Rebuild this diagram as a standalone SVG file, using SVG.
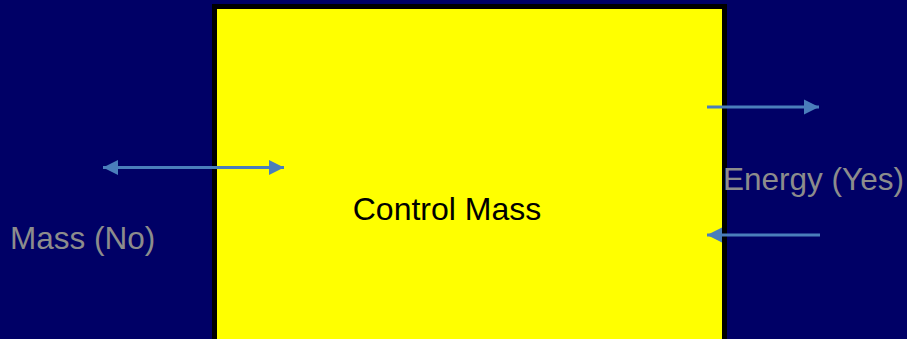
<svg xmlns="http://www.w3.org/2000/svg" width="907" height="339" viewBox="0 0 907 339">
<style>
.lbl{font-family:"Liberation Sans",Arial,sans-serif;font-size:31.5px;fill:#8c8c8c}
.conn{stroke:#4a7ebb;stroke-width:3;fill:none}
</style>
<defs>
<marker id="ah" viewBox="0 0 10 10" refX="10" refY="5" markerWidth="5" markerHeight="5.4" orient="auto-start-reverse" markerUnits="strokeWidth">
<path d="M0,0 L10,5 L0,10 Z" fill="#4a7ebb"/>
</marker>
</defs>
<rect x="0" y="0" width="907" height="339" fill="#000066"/>
<g id="control-mass">
<rect x="214.5" y="6.5" width="510" height="336" fill="#ffff00" stroke="#000000" stroke-width="5"/>
<text x="447" y="220" text-anchor="middle" font-family="Liberation Sans, Arial, sans-serif" font-size="32" fill="#000000">Control Mass</text>
</g>
<g id="mass-label"><text class="lbl" x="10" y="249">Mass (No)</text></g>
<g id="energy-label"><text class="lbl" x="723" y="190">Energy (Yes)</text></g>
<g id="connectors">
<line class="conn" x1="103" y1="167.5" x2="284" y2="167.5" marker-start="url(#ah)" marker-end="url(#ah)"/>
<line class="conn" x1="707" y1="107" x2="819" y2="107" marker-end="url(#ah)"/>
<line class="conn" x1="820" y1="235" x2="707" y2="235" marker-end="url(#ah)"/>
</g>
</svg>
